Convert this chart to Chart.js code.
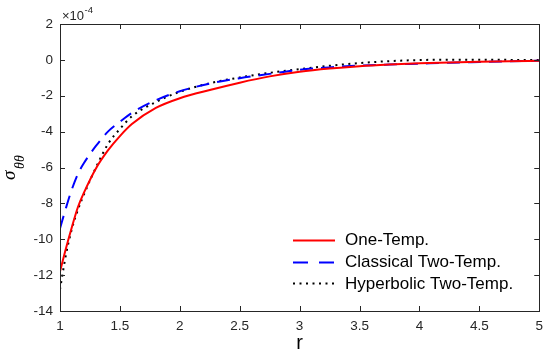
<!DOCTYPE html>
<html><head><meta charset="utf-8">
<script src="https://cdn.jsdelivr.net/npm/chart.js@4.4.0/dist/chart.umd.min.js"></script>
<style>html,body{margin:0;padding:0;background:#fff}#wrap{width:550px;height:359px;position:relative}</style>
</head><body><div id="wrap"><canvas id="c" width="550" height="359"></canvas></div>
<script>
const rValues = [1, 1.05, 1.1, 1.15, 1.2, 1.3, 1.4, 1.5, 1.6, 1.8, 2.0, 2.25, 2.5, 2.75, 3.0, 3.25, 3.5, 3.75, 4.0, 4.25, 4.5, 4.75, 5.0];
const oneTemp = [-11.8, -10.5, -9.3, -8.2, -7.4, -6.05, -5.05, -4.25, -3.58, -2.68, -2.14, -1.68, -1.27, -0.92, -0.66, -0.48, -0.35, -0.26, -0.19, -0.14, -0.10, -0.07, -0.05];
const classicalTwoTemp = [-9.4, -8.25, -7.2, -6.35, -5.75, -4.8, -4.0, -3.45, -2.95, -2.25, -1.75, -1.32, -1.02, -0.78, -0.55, -0.42, -0.32, -0.26, -0.21, -0.16, -0.12, -0.08, -0.05];
const hyperbolicTwoTemp = [-12.8, -10.85, -9.4, -8.35, -7.5, -6.0, -4.7, -3.85, -3.15, -2.35, -1.78, -1.3, -0.98, -0.72, -0.52, -0.33, -0.18, -0.07, -0.01, 0.01, 0.01, 0.0, 0.0];
const xTicks = [1, 1.5, 2, 2.5, 3, 3.5, 4, 4.5, 5];
const yTicks = [-14, -12, -10, -8, -6, -4, -2, 0, 2];
const seriesNames = ['One-Temp.', 'Classical Two-Temp.', 'Hyperbolic Two-Temp.'];

const toPts = arr => arr.map((v, i) => ({x: rValues[i], y: v}));
const FONT = '"Liberation Sans", Arial, sans-serif';

const inwardTicks = {
  id: 'inwardTicks',
  afterDatasetsDraw(chart) {
    const {ctx, chartArea: a, scales: {x, y}} = chart;
    ctx.save();
    ctx.strokeStyle = '#262626';
    ctx.lineWidth = 1;
    ctx.beginPath();
    const L = 5;
    xTicks.forEach(t => {
      const px = Math.round(x.getPixelForValue(t)) + 0.5;
      ctx.moveTo(px, a.bottom); ctx.lineTo(px, a.bottom - L);
      ctx.moveTo(px, a.top); ctx.lineTo(px, a.top + L);
    });
    yTicks.forEach(t => {
      const py = Math.round(y.getPixelForValue(t)) + 0.5;
      ctx.moveTo(a.left, py); ctx.lineTo(a.left + L, py);
      ctx.moveTo(a.right, py); ctx.lineTo(a.right - L, py);
    });
    ctx.stroke();
    ctx.strokeRect(Math.round(a.left) + 0.5, Math.round(a.top) + 0.5, Math.round(a.right - a.left), Math.round(a.bottom - a.top));
    ctx.restore();
  }
};

const extras = {
  id: 'extras',
  afterDraw(chart) {
    const {ctx, chartArea: a} = chart;
    ctx.save();
    // exponent label
    ctx.fillStyle = '#262626';
    ctx.textBaseline = 'alphabetic';
    ctx.font = '13px ' + FONT;
    ctx.fillText('\u00d710', a.left + 2, 20);
    const w = ctx.measureText('\u00d710').width;
    ctx.font = '9.5px ' + FONT;
    ctx.fillText('-4', a.left + 2.5 + w, 12.5);
    // x title
    ctx.fillStyle = '#000';
    ctx.font = '20px ' + FONT;
    ctx.textAlign = 'center';
    ctx.fillText('r', (a.left + a.right) / 2, 349);
    ctx.textAlign = 'left';
    // y title
    ctx.translate(15, 180);
    ctx.rotate(-Math.PI / 2);
    ctx.font = 'italic 19px "Liberation Serif", serif';
    ctx.fillText('\u03c3', 0, 0);
    ctx.font = 'italic 14px "Liberation Serif", serif';
    ctx.fillText('\u03b8\u03b8', 11, 9);
    ctx.restore();
    // legend
    ctx.save();
    const rows = [239.5, 261.5, 283];
    chart.data.datasets.forEach((ds, i) => {
      const yy = Math.round(rows[i]) + 0.5;
      ctx.strokeStyle = ds.borderColor;
      ctx.lineWidth = ds.borderWidth;
      ctx.setLineDash(i === 1 ? [15, 11] : (ds.borderDash || []));
      ctx.beginPath();
      ctx.moveTo(293, yy); ctx.lineTo(335, yy);
      ctx.stroke();
      ctx.setLineDash([]);
      ctx.fillStyle = '#000';
      ctx.font = '17px ' + FONT;
      ctx.textBaseline = 'middle';
      ctx.fillText(seriesNames[i], 345, rows[i] + 1);
    });
    ctx.restore();
  }
};

new Chart(document.getElementById('c'), {
  type: 'line',
  data: {
    datasets: [
      {label: seriesNames[0], data: toPts(oneTemp), borderColor: '#ff0000', borderWidth: 2, pointRadius: 0, cubicInterpolationMode: 'monotone', fill: false},
      {label: seriesNames[1], data: toPts(classicalTwoTemp), borderColor: '#0000ff', borderWidth: 2, borderDash: [13, 8], pointRadius: 0, cubicInterpolationMode: 'monotone', fill: false},
      {label: seriesNames[2], data: toPts(hyperbolicTwoTemp), borderColor: '#000000', borderWidth: 2, borderDash: [2, 4.5], pointRadius: 0, cubicInterpolationMode: 'monotone', fill: false}
    ]
  },
  options: {
    responsive: false,
    animation: false,
    layout: {padding: {left: 0, right: 1, top: 24, bottom: 0}},
    plugins: {legend: {display: false}, tooltip: {enabled: false}},
    scales: {
      x: {
        type: 'linear', min: 1, max: 5,
        afterBuildTicks: s => { s.ticks = xTicks.map(v => ({value: v})); },
        afterFit: s => { s.height = 48; },
        grid: {display: false, drawTicks: false},
        border: {display: false},
        ticks: {color: '#262626', font: {size: 13.5, family: FONT}, padding: 7, maxRotation: 0, callback: v => String(v)}
      },
      y: {
        type: 'linear', min: -14, max: 2,
        afterBuildTicks: s => { s.ticks = yTicks.map(v => ({value: v})); },
        afterFit: s => { s.width = 60; },
        grid: {display: false, drawTicks: false},
        border: {display: false},
        ticks: {color: '#262626', font: {size: 13.5, family: FONT}, padding: 7, callback: v => String(v)}
      }
    }
  },
  plugins: [inwardTicks, extras]
});
</script>
</body></html>
